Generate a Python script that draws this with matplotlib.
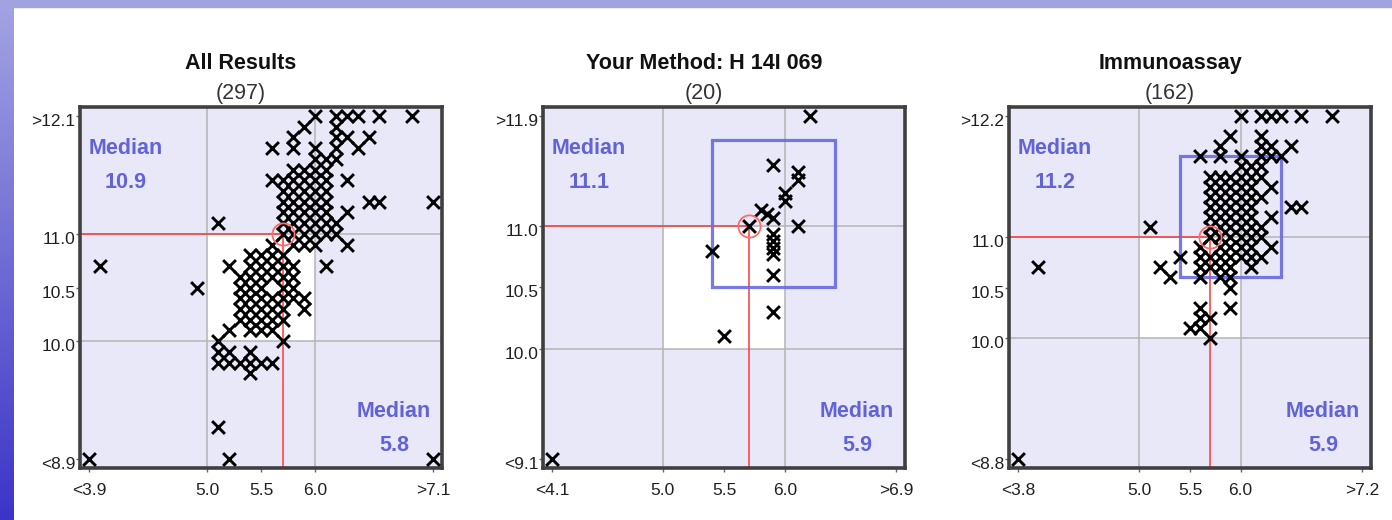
import numpy as np
import matplotlib.pyplot as plt
import matplotlib.transforms as mtransforms
from matplotlib.patches import Rectangle

plt.rcParams['font.family'] = ['Liberation Sans', 'DejaVu Sans']

# panel headings
titles = ['All Results', 'Your Method: H 14I 069', 'Immunoassay']
counts = [297, 20, 162]

# axis ranges (values outside are shown on the edge with < / >)
x_ranges = [(3.9, 7.1), (4.1, 6.9), (3.8, 7.2)]
y_ranges = [(8.9, 12.1), (9.1, 11.9), (8.8, 12.2)]

median_x = [5.8, 5.9, 5.9]
median_y = [10.9, 11.1, 11.2]

# spread box of the group (x0, x1, y0, y1)
boxes = [None, (5.4, 6.4, 10.5, 11.7), (5.4, 6.4, 10.6, 11.8)]

your_result = (5.7, 11.0)
target_x = (5.0, 6.0)
target_y = (10.0, 11.0)

# results, row by row: (y, [x values])
all_rows = [
    (12.1, [6.0, 6.2, 6.3, 6.4, 6.6, 6.9]),
    (12.0, [5.9, 6.2]),
    (11.9, [5.8, 6.2, 6.3, 6.5]),
    (11.8, [5.6, 5.8, 6.0, 6.2, 6.4]),
    (11.7, [6.0, 6.1, 6.2]),
    (11.6, [5.8, 5.9, 6.0, 6.1]),
    (11.5, [5.6, 5.7, 5.8, 5.9, 6.0, 6.1, 6.3]),
    (11.4, [5.7, 5.8, 5.9, 6.0, 6.1]),
    (11.3, [5.7, 5.8, 5.9, 6.0, 6.1, 6.5, 6.6, 7.1]),
    (11.2, [5.7, 5.8, 5.9, 6.0, 6.1, 6.3]),
    (11.1, [5.1, 5.7, 5.8, 5.9, 6.0, 6.1, 6.2]),
    (11.0, [5.7, 5.8, 5.9, 6.0, 6.1, 6.2]),
    (10.9, [5.6, 5.8, 5.9, 6.0, 6.3]),
    (10.8, [5.4, 5.5, 5.6, 5.7]),
    (10.7, [4.0, 5.2, 5.4, 5.5, 5.6, 5.7, 5.8, 6.1]),
    (10.6, [5.3, 5.4, 5.5, 5.6, 5.7, 5.8]),
    (10.5, [4.9, 5.3, 5.4, 5.5, 5.7, 5.8]),
    (10.4, [5.3, 5.4, 5.5, 5.6, 5.7, 5.8, 5.9]),
    (10.3, [5.3, 5.4, 5.5, 5.6, 5.7, 5.9]),
    (10.2, [5.3, 5.4, 5.5, 5.6, 5.7]),
    (10.1, [5.2, 5.4, 5.5, 5.6]),
    (10.0, [5.1, 5.7]),
    (9.9, [5.1, 5.2, 5.4]),
    (9.8, [5.1, 5.2, 5.3, 5.4, 5.5, 5.6]),
    (9.7, [5.4]),
    (9.2, [5.1]),
    (8.9, [3.9, 5.2, 7.1]),
]

method_x = [4.1, 5.5, 5.9, 5.9, 5.4, 5.7, 6.1, 5.9, 6.2,
            5.8, 5.85, 5.9, 5.9, 5.9, 5.9, 5.9, 6.0, 6.0, 6.1, 6.1]
method_y = [9.1, 10.1, 10.3, 10.6, 10.8, 11.0, 11.0, 11.5, 11.9,
            11.13, 11.1, 11.07, 10.94, 10.88, 10.82, 10.77, 11.21, 11.27, 11.38, 11.44]

immuno_rows = [
    (12.2, [6.0, 6.2, 6.3, 6.4, 6.6, 6.9]),
    (12.0, [5.9, 6.2]),
    (11.9, [5.8, 6.2, 6.3, 6.5]),
    (11.8, [5.6, 5.8, 6.0, 6.2, 6.3, 6.4]),
    (11.7, [6.0, 6.1, 6.2]),
    (11.6, [5.7, 5.8, 5.9, 6.0, 6.1, 6.2]),
    (11.5, [5.7, 5.8, 5.9, 6.0, 6.1, 6.3]),
    (11.4, [5.7, 5.8, 5.9, 6.0, 6.1, 6.2]),
    (11.3, [5.7, 5.8, 5.9, 6.0, 6.1, 6.5, 6.6]),
    (11.2, [5.7, 5.8, 5.9, 6.0, 6.1, 6.3]),
    (11.1, [5.1, 5.7, 5.8, 5.9, 6.0, 6.1, 6.2]),
    (11.0, [5.7, 5.8, 5.9, 6.0, 6.1, 6.2]),
    (10.9, [5.6, 5.8, 5.9, 6.0, 6.1, 6.3]),
    (10.8, [5.4, 5.6, 5.7, 5.8, 5.9, 6.0, 6.1, 6.2]),
    (10.7, [4.0, 5.2, 5.6, 5.7, 5.8, 5.9, 6.1]),
    (10.6, [5.3, 5.6, 5.8, 5.9]),
    (10.5, [5.9]),
    (10.3, [5.6, 5.9]),
    (10.2, [5.6, 5.7]),
    (10.1, [5.5, 5.6]),
    (10.0, [5.7]),
    (8.8, [3.8]),
]


def expand(rows):
    xs, ys = [], []
    for y, row in rows:
        xs += row
        ys += [y] * len(row)
    return np.array(xs), np.array(ys)


points = [expand(all_rows), (np.array(method_x), np.array(method_y)), expand(immuno_rows)]

W, H = 1392, 520
fig = plt.figure(figsize=(W / 100, H / 100), dpi=100)
fig.patch.set_facecolor('white')

# page decoration: gradient bar on the left, flat band on top
side = fig.add_axes([0, 0, 14 / W, 1])
grad = np.linspace(0, 1, 256).reshape(-1, 1)
top_c = np.array([164, 164, 226]) / 255
bot_c = np.array([60, 52, 200]) / 255
img = top_c[None, None, :] * (1 - grad[:, :, None]) + bot_c[None, None, :] * grad[:, :, None]
side.imshow(img, aspect='auto', extent=(0, 1, 0, 1))
side.axis('off')
fig.patches.append(Rectangle((0, 1 - 7 / H), 1, 7 / H, transform=fig.transFigure,
                             color='#a2a2e0', zorder=5))

lefts = [80, 543, 1009]
frame_w, frame_h, frame_b = 362, 361, 52
inset = 9  # px between frame and outermost value

med_color = '#6363d8'
label_shift = mtransforms.ScaledTranslation(0, -4 / 100, fig.dpi_scale_trans)

for i in range(3):
    L = lefts[i]
    ax = fig.add_axes([L / W, frame_b / H, frame_w / W, frame_h / H])
    x0, x1 = x_ranges[i]
    y0, y1 = y_ranges[i]
    mx = inset / (frame_w - 2 * inset) * (x1 - x0)
    my = inset / (frame_h - 2 * inset) * (y1 - y0)
    ax.set_xlim(x0 - mx, x1 + mx)
    ax.set_ylim(y0 - my, y1 + my)
    ax.set_facecolor('#e8e8f8')

    # target area
    ax.add_patch(Rectangle((target_x[0], target_y[0]), target_x[1] - target_x[0],
                           target_y[1] - target_y[0], fc='white', ec='none', zorder=0.5))
    for gx in target_x:
        ax.axvline(gx, color='#b4b4b4', lw=1.1, zorder=1)
    for gy in target_y:
        ax.axhline(gy, color='#b4b4b4', lw=1.1, zorder=1)

    # your result cross-hair
    rx, ry = your_result
    ax.plot([x0 - mx, rx], [ry, ry], color='#ff3838', lw=1.1, zorder=2)
    ax.plot([rx, rx], [ry, y0 - my], color='#ff3838', lw=1.1, zorder=2)

    if boxes[i] is not None:
        bx0, bx1, by0, by1 = boxes[i]
        ax.add_patch(Rectangle((bx0, by0), bx1 - bx0, by1 - by0, fill=False,
                               ec='#6a6ae0', lw=2.3, alpha=0.9, zorder=3))

    px, py = points[i]
    ax.scatter(np.clip(px, x0, x1), np.clip(py, y0, y1), marker='x', s=85,
               c='black', linewidths=2.1, zorder=4, clip_on=False)

    ax.plot(rx, ry, 'o', ms=16, mfc='none', mec='#ff6a6a', mew=1.3, zorder=5)

    # ticks
    ax.set_xticks([x0, 5.0, 5.5, 6.0, x1])
    ax.set_xticklabels(['<%.1f' % x0, '5.0', '5.5', '6.0', '>%.1f' % x1])
    ax.set_yticks([y0, 10.0, 10.5, 11.0, y1])
    ax.set_yticklabels(['<%.1f' % y0, '10.0', '10.5', '11.0', '>%.1f' % y1])
    ax.tick_params(axis='x', length=3, width=1, color='#666666', pad=8,
                   labelsize=12.5, labelcolor='#202020')
    ax.tick_params(axis='y', length=3, width=1, color='#666666', pad=0.5,
                   labelsize=12.5, labelcolor='#202020')
    for lab in ax.get_yticklabels():
        lab.set_transform(lab.get_transform() + label_shift)
    for sp in ax.spines.values():
        sp.set_linewidth(2.6)
        sp.set_color('#404040')

    # median labels
    ax.text(46 / frame_w, 1 - (154 - 107) / frame_h, 'Median', transform=ax.transAxes,
            ha='center', va='baseline', fontsize=15.5, fontweight='bold', color=med_color)
    ax.text(46 / frame_w, 1 - (188 - 107) / frame_h, '%.1f' % median_y[i],
            transform=ax.transAxes, ha='center', va='baseline', fontsize=15.5,
            fontweight='bold', color=med_color)
    ax.text(1 - 48 / frame_w, (468 - 417) / frame_h, 'Median', transform=ax.transAxes,
            ha='center', va='baseline', fontsize=15.5, fontweight='bold', color=med_color)
    ax.text(1 - 48 / frame_w, (468 - 451) / frame_h, '%.1f' % median_x[i],
            transform=ax.transAxes, ha='center', va='baseline', fontsize=15.5,
            fontweight='bold', color=med_color)

    cx = (L + frame_w / 2 - 20) / W
    fig.text(cx, 1 - 69 / H, titles[i], ha='center', va='baseline',
             fontsize=15.5, fontweight='bold', color='#111111')
    fig.text(cx, 1 - 99 / H, '(%d)' % counts[i], ha='center', va='baseline',
             fontsize=15.5, color='#333333')

fig.savefig('out.png', dpi=100)
